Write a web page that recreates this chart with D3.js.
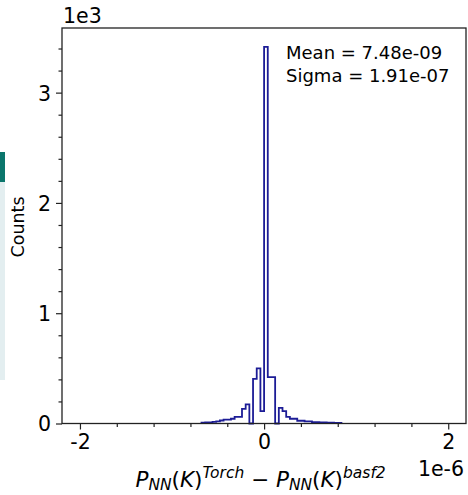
<!DOCTYPE html>
<html>
<head>
<meta charset="utf-8">
<script src="https://cdn.jsdelivr.net/npm/d3@7"></script>
<style>
  body { margin: 0; background: #fff; }
  text { font-family: "DejaVu Sans", sans-serif; fill: #000; }
</style>
</head>
<body>
<div id="chart"></div>
<script>
// histogram of P_NN differences (units of 1e-6)
const binStart = -0.68;
const binWidth = 0.04;
const counts = [8, 10, 10, 15, 20, 27, 36, 36, 43, 60, 60, 133, 173, 0, 405, 500, 112,
  3415, 420, 420, 0, 142, 112, 60, 43, 43, 25, 25, 20, 20, 12, 12, 10, 10, 8, 8, 6, 5];
const xMajor = [-2, 0, 2];
const xMinor = [-1.6, -1.2, -0.8, -0.4, 0.4, 0.8, 1.2, 1.6];
const yMajor = [0, 1, 2, 3];       // x 1e3
const yMinor = [0.2, 0.4, 0.6, 0.8, 1.2, 1.4, 1.6, 1.8, 2.2, 2.4, 2.6, 2.8, 3.2, 3.4];
const stats = ["Mean = 7.48e-09", "Sigma = 1.91e-07"];

const W = 468, H = 495;
const m = {left: 62, right: 466, top: 28, bottom: 423.5};

const svg = d3.select("#chart").append("svg")
  .attr("width", W).attr("height", H);

// the strip of page that shows at the left edge
svg.append("rect").attr("x", 0).attr("y", 182).attr("width", 5).attr("height", 198).attr("fill", "#e3eef0");
svg.append("rect").attr("x", 0).attr("y", 152).attr("width", 5).attr("height", 30).attr("fill", "#0b766c");

const x = d3.scaleLinear().domain([-2.195, 2.193]).range([m.left, m.right]);
const y = d3.scaleLinear().domain([0, 3.586]).range([m.bottom, m.top]);

// step outline
let pts = [];
pts.push([binStart, 0]);
counts.forEach((c, i) => {
  let x0 = binStart + i * binWidth;
  pts.push([x0, c / 1000]);
  pts.push([x0 + binWidth, c / 1000]);
});
pts.push([binStart + counts.length * binWidth, 0]);

const line = d3.line().x(d => x(d[0])).y(d => y(d[1]));
svg.append("path")
  .attr("d", line(pts))
  .attr("fill", "none")
  .attr("stroke", "#1c1c96")
  .attr("stroke-width", 1.8)
  .attr("stroke-linejoin", "miter");

// axes
const xAxis = svg.append("g").attr("transform", `translate(0,${m.bottom})`)
  .call(d3.axisBottom(x).tickValues(xMajor).tickSize(6).tickPadding(4)
    .tickFormat(d => d < 0 ? "-" + Math.abs(d) : d));
svg.append("g").attr("transform", `translate(0,${m.bottom})`)
  .call(d3.axisBottom(x).tickValues(xMinor).tickSize(3.5).tickFormat(""));
const yAxis = svg.append("g").attr("transform", `translate(${m.left},0)`)
  .call(d3.axisLeft(y).tickValues(yMajor).tickSize(6).tickPadding(5).tickFormat(d3.format("d")));
svg.append("g").attr("transform", `translate(${m.left},0)`)
  .call(d3.axisLeft(y).tickValues(yMinor).tickSize(3.5).tickFormat(""));

svg.selectAll(".domain").remove();
svg.selectAll(".tick line").attr("stroke", "#222").attr("stroke-width", 1.2);
svg.selectAll(".tick text").style("font-size", "20.5px").attr("fill", "#111");
yAxis.selectAll(".tick text").attr("dy", "0.36em");
xAxis.selectAll(".tick text").attr("dy", "0.76em");

// frame
svg.append("rect")
  .attr("x", m.left).attr("y", m.top)
  .attr("width", m.right - m.left).attr("height", m.bottom - m.top)
  .attr("fill", "none").attr("stroke", "#222").attr("stroke-width", 1.3);

// offset labels
svg.append("text").attr("x", m.left + 1).attr("y", 23).style("font-size", "20.5px").text("1e3");
svg.append("text").attr("x", m.right - 2).attr("y", 476).attr("text-anchor", "end")
  .style("font-size", "20.5px").text("1e-6");

// y label
svg.append("text")
  .attr("transform", "translate(24,227) rotate(-90)")
  .attr("text-anchor", "middle")
  .style("font-size", "17.5px")
  .text("Counts");

// x label (mathtext style)
const xl = svg.append("text").attr("x", 264).attr("y", 487)
  .attr("text-anchor", "middle").style("font-size", "21.5px");
function pnn(sup) {
  xl.append("tspan").style("font-style", "italic").text("P");
  xl.append("tspan").style("font-style", "italic").style("font-size", "15.5px").attr("dy", 3).text("NN");
  xl.append("tspan").attr("dy", -3).text("(");
  xl.append("tspan").style("font-style", "italic").text("K");
  xl.append("tspan").text(")");
  xl.append("tspan").style("font-style", "italic").style("font-size", "15.5px").attr("dy", -9).text(sup);
  xl.append("tspan").attr("dy", 9).text("\u00a0");
}
pnn("Torch");
xl.append("tspan").text("\u2212 ");
pnn("basf2");

// stats box text
svg.selectAll(".stat").data(stats).join("text")
  .attr("class", "stat")
  .attr("x", 286)
  .attr("y", (d, i) => 59 + i * 23)
  .style("font-size", "18px")
  .text(d => d);
</script>
</body>
</html>
